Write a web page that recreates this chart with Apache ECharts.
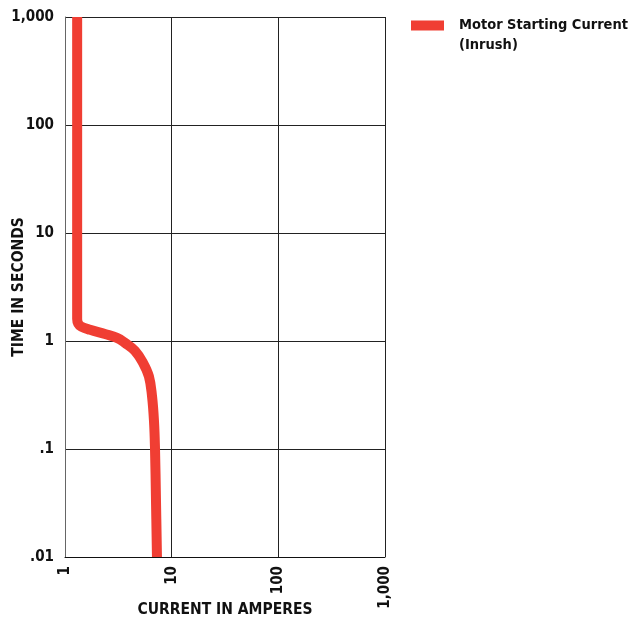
<!DOCTYPE html>
<html>
<head>
<meta charset="utf-8">
<script src="https://cdn.jsdelivr.net/npm/echarts@6/dist/echarts.min.js"></script>
<style>
  html, body { margin: 0; padding: 0; background: #fff; }
  #chart { width: 631px; height: 619px; }
</style>
</head>
<body>
<div id="chart"></div>
<script>
// Motor starting (inrush) current vs. time, log-log
const seriesName = 'Motor Starting Current';
const seriesNote = '(Inrush)';
const currentAmps = [1.30, 1.30, 1.33, 1.42, 1.72, 2.37, 3.07, 3.65, 4.53, 5.38, 6.12, 6.54, 6.83, 6.98, 7.13, 7.28];
const timeSeconds = [1000, 1.60, 1.45, 1.36, 1.27, 1.16, 1.07, 0.96, 0.81, 0.63, 0.47, 0.31, 0.18, 0.10, 0.033, 0.01];
const xTickLabels = ['1', '10', '100', '1,000'];          // 10^0 .. 10^3
const yTickLabels = ['.01', '.1', '1', '10', '100', '1,000']; // 10^-2 .. 10^3

const FONT = '"Liberation Sans Narrow", "DejaVu Sans Condensed", "Liberation Sans", sans-serif';
const RED = '#f03e33';

const chart = echarts.init(document.getElementById('chart'));

chart.setOption({
  animation: false,
  backgroundColor: '#fff',
  grid: { left: 65, top: 17, right: 246, bottom: 62, containLabel: false, outerBoundsMode: 'none' },
  legend: {
    left: 411, top: 18, padding: 0,
    icon: 'rect', itemWidth: 33, itemHeight: 10, itemGap: 0,
    textStyle: { fontFamily: FONT, fontWeight: 'bold', fontSize: 14.5, color: '#111', padding: [0, 0, 0, 10] },
    data: [seriesName]
  },
  graphic: [{
    type: 'text', left: 459, top: 38,
    style: { text: seriesNote, fontFamily: FONT, fontWeight: 'bold', fontSize: 14.5, fill: '#111' }
  }],
  xAxis: {
    type: 'log', logBase: 10, min: 1, max: 1000, interval: 1,
    name: 'CURRENT IN AMPERES', nameLocation: 'middle', nameGap: 45, nameMoveOverlap: false,
    nameTextStyle: { fontFamily: FONT, fontWeight: 'bold', fontSize: 15.5, color: '#111' },
    axisLine: { show: true, lineStyle: { color: '#111', width: 1 } },
    axisTick: { show: false },
    axisLabel: {
      rotate: 90, margin: 9, fontFamily: FONT, fontWeight: 'bold', fontSize: 15, color: '#111',
      formatter: v => xTickLabels[Math.round(Math.log10(v))]
    },
    splitLine: { show: true, lineStyle: { color: '#222', width: 1 } },
    minorTick: { show: false }
  },
  yAxis: {
    type: 'log', logBase: 10, min: 0.01, max: 1000, interval: 1,
    name: 'TIME IN SECONDS', nameLocation: 'middle', nameGap: 38, nameMoveOverlap: false,
    nameTextStyle: { fontFamily: FONT, fontWeight: 'bold', fontSize: 15.5, color: '#111' },
    axisLine: { show: true, lineStyle: { color: '#666', width: 1 } },
    axisTick: { show: false },
    axisLabel: {
      margin: 11, fontFamily: FONT, fontWeight: 'bold', fontSize: 15, color: '#111',
      formatter: v => yTickLabels[Math.round(Math.log10(v)) + 2]
    },
    splitLine: { show: true, lineStyle: { color: '#222', width: 1 } }
  },
  series: [{
    name: seriesName,
    type: 'line',
    data: currentAmps.map((c, i) => [c, timeSeconds[i]]),
    showSymbol: false,
    smooth: 0.4,
    lineStyle: { color: RED, width: 10, cap: 'butt', join: 'round' },
    itemStyle: { color: RED },
    clip: true
  }]
});
</script>
</body>
</html>
